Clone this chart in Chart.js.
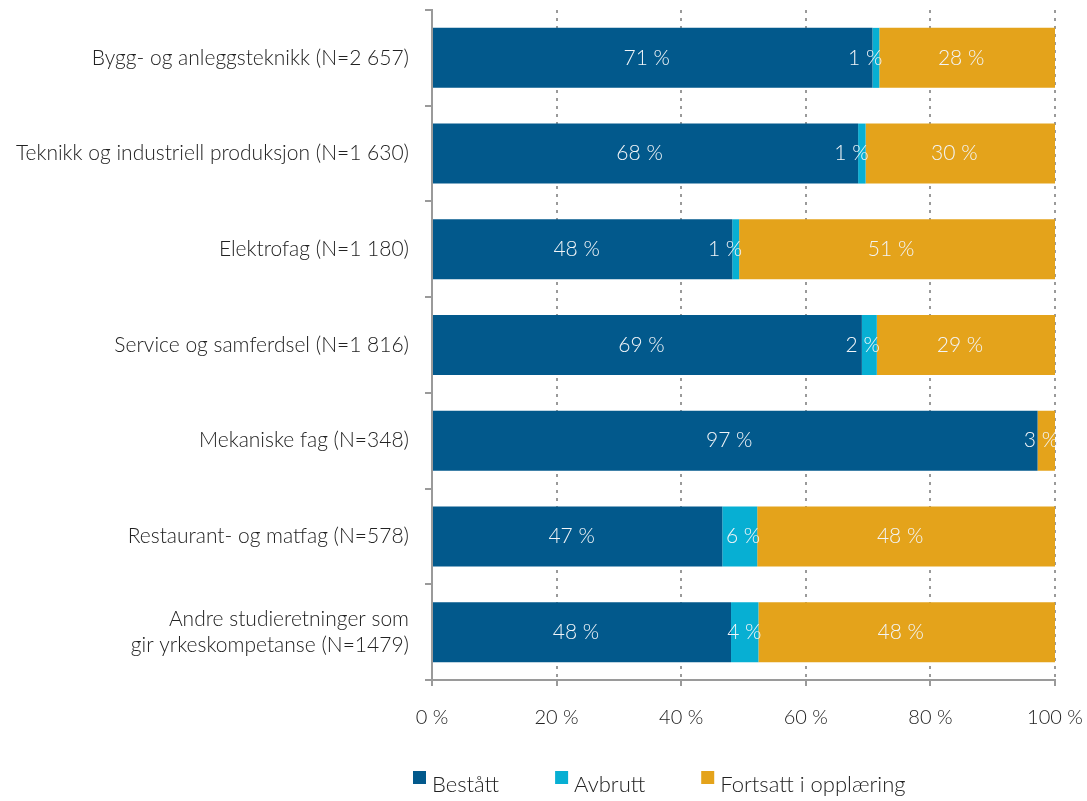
<!DOCTYPE html>
<html>
<head>
<meta charset="utf-8">
<style>
  html, body { margin: 0; padding: 0; background: #fff; }
  #wrap { width: 1087px; height: 801px; }
</style>
<script src="https://cdn.jsdelivr.net/npm/chart.js@4.4.1/dist/chart.umd.min.js"></script>
</head>
<body>
<div id="wrap"><canvas id="c" width="1087" height="801"></canvas></div>
<script>
'use strict';

/* ─── Data ─── */
const categories = [
  'Bygg- og anleggsteknikk (N=2 657)',
  'Teknikk og industriell produksjon (N=1 630)',
  'Elektrofag (N=1 180)',
  'Service og samferdsel (N=1 816)',
  'Mekaniske fag (N=348)',
  'Restaurant- og matfag (N=578)',
  ['Andre studieretninger som', 'gir yrkeskompetanse (N=1479)']
];
const bestatt  = [70.7, 68.4, 48.2, 69.0, 97.2, 46.6, 48.0];
const avbrutt  = [1.1, 1.2, 1.1, 2.4, 0, 5.6, 4.4];
const fortsatt = [28.2, 30.4, 50.7, 28.6, 2.8, 47.8, 47.6];
const seriesNames = ['Bestått', 'Avbrutt', 'Fortsatt i opplæring'];
const xTicks = [0, 20, 40, 60, 80, 100];

const FONT = 'Lato';
const GREY = '#9a9a9a';
const TEXT = '#222';

/* ─── Segment labels drawn inside the bars ─── */
const segLabels = {
  id: 'segLabels',
  afterDatasetsDraw(chart) {
    const ctx = chart.ctx;
    ctx.save();
    ctx.font = '300 21px ' + FONT;
    ctx.fillStyle = '#f2f5f8';
    ctx.textBaseline = 'middle';
    chart.data.datasets.forEach((ds, i) => {
      const meta = chart.getDatasetMeta(i);
      meta.data.forEach((el, j) => {
        const v = ds.data[j];
        if (!v) return;
        const txt = Math.round(v) + ' %';
        const w = el.x - el.base;
        if (w > 50) {
          // the source sets these a touch left of centre
          ctx.textAlign = 'center';
          ctx.fillText(txt, (el.x + el.base) / 2 - 6, el.y);
        } else {
          ctx.textAlign = 'right';
          ctx.fillText(txt, el.x + 3, el.y);
        }
      });
    });
    ctx.restore();
  }
};

/* ─── Legend below the axis: small square, short gap, text ─── */
const bottomLegend = {
  id: 'bottomLegend',
  afterDraw(chart) {
    const ctx = chart.ctx;
    ctx.save();
    ctx.font = '300 22px ' + FONT;
    ctx.textBaseline = 'alphabetic';
    ctx.textAlign = 'left';
    let x = 413;
    const baseY = 792;
    chart.data.datasets.forEach(ds => {
      ctx.fillStyle = ds.backgroundColor;
      ctx.fillRect(x, 771, 13, 13);
      ctx.fillStyle = TEXT;
      ctx.fillText(ds.label, x + 19, baseY);
      x += 19 + ctx.measureText(ds.label).width + 56;
    });
    ctx.restore();
  }
};

new Chart(document.getElementById('c'), {
  type: 'bar',
  data: {
    labels: categories,
    datasets: [
      { label: seriesNames[0], data: bestatt,  backgroundColor: '#02598c' },
      { label: seriesNames[1], data: avbrutt,  backgroundColor: '#07afd3' },
      { label: seriesNames[2], data: fortsatt, backgroundColor: '#e4a31b' }
    ]
  },
  options: {
    indexAxis: 'y',
    responsive: false,
    animation: false,
    layout: { padding: { top: 10, right: 32, bottom: 59, left: 0 } },
    datasets: { bar: { barPercentage: 60 / 95.7, categoryPercentage: 1 } },
    plugins: {
      legend: { display: false },
      tooltip: { enabled: false }
    },
    scales: {
      x: {
        stacked: true,
        min: 0,
        max: 100,
        afterBuildTicks(scale) { scale.ticks = xTicks.map(v => ({ value: v })); },
        ticks: {
          color: TEXT,
          font: { family: FONT, size: 20, weight: 300 },
          padding: 20,
          callback: v => v + ' %'
        },
        grid: {
          color: c => (c.tick && c.tick.value === 0) ? 'rgba(0,0,0,0)' : GREY,
          lineWidth: 2,
          tickColor: GREY,
          tickLength: 6,
          tickBorderDash: []
        },
        border: { display: true, color: GREY, width: 2, dash: [3, 5] },
        afterFit(scale) {
          scale.height = 62;
          scale.paddingLeft = 0;
          scale.paddingRight = 0;
        }
      },
      y: {
        stacked: true,
        ticks: {
          color: TEXT,
          font: { family: FONT, size: 21, weight: 300 },
          padding: 16
        },
        grid: {
          drawOnChartArea: false,
          color: GREY,
          lineWidth: 2,
          tickLength: 7
        },
        border: { display: true, color: GREY, width: 2 },
        afterFit(scale) {
          scale.width = 432;
          scale.paddingTop = 0;
          scale.paddingBottom = 0;
        }
      }
    }
  },
  plugins: [segLabels, bottomLegend]
});
</script>
</body>
</html>
